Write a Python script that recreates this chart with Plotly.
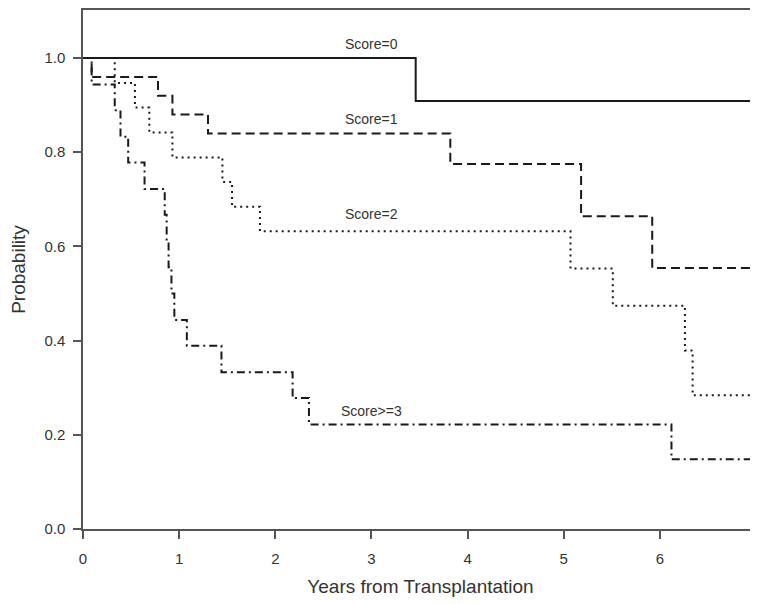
import plotly.graph_objects as go

# Kaplan-Meier step data (time in years, survival probability)
t_score0 = [0, 3.46, 7.05]
s_score0 = [1.0, 0.909, 0.909]

t_score1 = [0, 0.09, 0.78, 0.93, 1.30, 3.82, 5.18, 5.92, 7.05]
s_score1 = [1.0, 0.96, 0.92, 0.88, 0.84, 0.775, 0.664, 0.554, 0.554]

t_score2 = [0, 0.33, 0.54, 0.69, 0.93, 1.45, 1.55, 1.84, 5.07, 5.51, 6.26, 6.34, 7.05]
s_score2 = [1.0, 0.947, 0.895, 0.842, 0.789, 0.737, 0.684, 0.632, 0.553, 0.474, 0.379, 0.284, 0.284]

t_score3 = [0, 0.09, 0.33, 0.39, 0.47, 0.64, 0.85, 0.87, 0.89, 0.92, 0.95, 1.08, 1.44, 2.18, 2.35, 6.12, 7.05]
s_score3 = [1.0, 0.944, 0.889, 0.833, 0.778, 0.722, 0.667, 0.611, 0.556, 0.5, 0.444, 0.389, 0.333, 0.278, 0.222, 0.148, 0.148]

label_text = ["Score=0", "Score=1", "Score=2", "Score>=3"]
label_x = [3.0, 3.0, 3.0, 3.0]
label_y = [1.03, 0.87, 0.669, 0.251]

x_ticks = [0, 1, 2, 3, 4, 5, 6, 7]
y_ticks = [0.0, 0.2, 0.4, 0.6, 0.8, 1.0]
y_tick_text = ["0.0", "0.2", "0.4", "0.6", "0.8", "1.0"]

FONT = "Liberation Sans, Arial, sans-serif"
INK = "#1a1a1a"
fig = go.Figure()
series = [
    (t_score0, s_score0, "solid"),
    (t_score1, s_score1, "9px,5px"),
    (t_score2, s_score2, "2px,4px"),
    (t_score3, s_score3, "8px,4px,2px,4px"),
]
for t, s, dash in series:
    fig.add_trace(go.Scatter(x=t, y=s, mode="lines", line_shape="hv",
                             line=dict(color=INK, width=2, dash=dash),
                             showlegend=False, hoverinfo="skip", cliponaxis=True))

for txt, x, y in zip(label_text, label_x, label_y):
    fig.add_annotation(x=x, y=y, text=txt, showarrow=False,
                       font=dict(family=FONT, size=14, color="#333"))

fig.update_layout(
    width=750, height=596,
    margin=dict(l=75, r=0, t=2, b=75, autoexpand=False),
    paper_bgcolor="white", plot_bgcolor="white",
    font=dict(family=FONT, color="#333"),
    xaxis=dict(range=[0, 7.02], tickvals=x_ticks, ticks="outside", ticklen=8,
               tickcolor="#555", tickwidth=1.5, showline=True, linecolor="#555",
               linewidth=1.5, mirror=True, showgrid=False, zeroline=False,
               tickfont=dict(size=15, color="#333"), ticklabelstandoff=7,
               automargin=False,
               title=dict(text="Years from Transplantation", font=dict(size=19, color="#333"),
                          standoff=14)),
    yaxis=dict(range=[0, 1.102], tickvals=y_ticks, ticktext=y_tick_text, ticks="outside",
               ticklen=8, tickcolor="#555", tickwidth=1.5, showline=True, linecolor="#555",
               linewidth=1.5, showgrid=False, zeroline=False, automargin=False,
               tickfont=dict(size=15, color="#333"), ticklabelstandoff=5,
               title=dict(text="Probability", font=dict(size=19, color="#333"), standoff=14)),
)

fig.write_html("out.html")
